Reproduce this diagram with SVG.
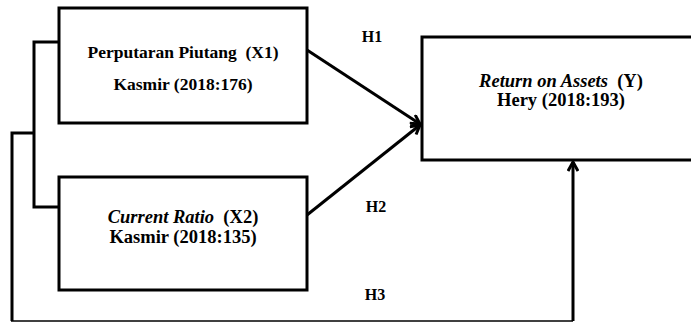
<svg xmlns="http://www.w3.org/2000/svg" width="691" height="322" viewBox="0 0 691 322">
<style>
.box{fill:#fff;stroke:#000;stroke-width:3}
.ln{fill:none;stroke:#000;stroke-width:3}
.t{font-family:"Liberation Serif","Times New Roman",serif;font-weight:bold;fill:#000;text-anchor:middle}
.i{font-style:italic}
.h{font-family:"Liberation Serif","Times New Roman",serif;font-weight:bold;font-size:16px;fill:#000;text-anchor:middle}
</style>
<defs>
<marker id="arr" viewBox="0 0 12 12" refX="11" refY="6" markerWidth="12" markerHeight="12" markerUnits="userSpaceOnUse" orient="auto">
<path d="M2,1 L11,6 L2,11" fill="none" stroke="#000" stroke-width="3"/>
</marker>
</defs>
<g id="connectors">
<polyline class="ln" points="59,42 34,42 34,207 59,207"/>
<polyline class="ln" points="34,133 12,133 12,321"/>
<line x1="11" y1="321" x2="573" y2="321" stroke="#000" stroke-width="1.5"/>
<line class="ln" x1="573" y1="321" x2="573" y2="162" marker-end="url(#arr)"/>
<line class="ln" x1="307" y1="50" x2="420" y2="124" marker-end="url(#arr)"/>
<line class="ln" x1="307" y1="215" x2="420" y2="125" marker-end="url(#arr)"/>
</g>
<g id="x1">
<rect class="box" x="59" y="8" width="248" height="115"/>
<text class="t" x="183" y="58" font-size="17.5" xml:space="preserve">Perputaran Piutang  (X1)</text>
<text class="t" x="183" y="90" font-size="17.5">Kasmir (2018:176)</text>
</g>
<g id="x2">
<rect class="box" x="59" y="177" width="248" height="113"/>
<text class="t" x="183" y="223" font-size="18.5" xml:space="preserve"><tspan class="i">Current Ratio</tspan>  (X2)</text>
<text class="t" x="183" y="243" font-size="18.5">Kasmir (2018:135)</text>
</g>
<g id="y">
<rect class="box" x="422" y="37" width="280" height="123"/>
<text class="t" x="561" y="87" font-size="18.5" xml:space="preserve"><tspan class="i">Return on Assets</tspan>  (Y)</text>
<text class="t" x="561" y="106" font-size="18.5">Hery (2018:193)</text>
</g>
<g id="labels">
<text class="h" x="372" y="42">H1</text>
<text class="h" x="376" y="212">H2</text>
<text class="h" x="375" y="300">H3</text>
</g>
</svg>
